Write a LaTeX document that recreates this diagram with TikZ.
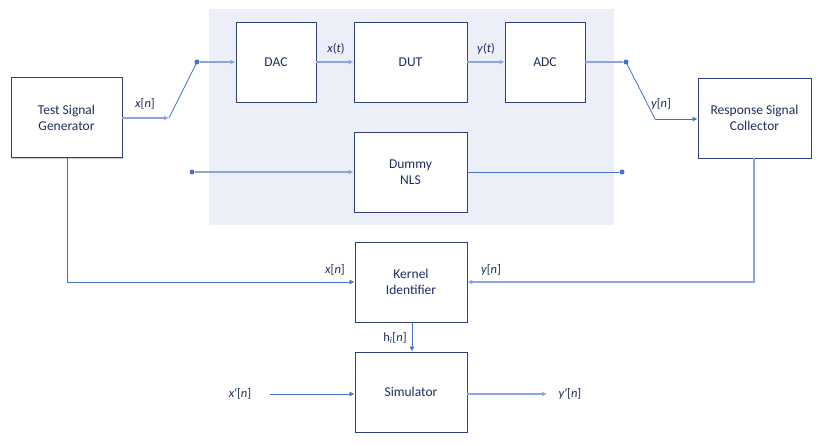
\documentclass[tikz,border=0pt]{standalone}
\usepackage{fontspec}
\setmainfont{Carlito}
\newfontfamily\primefont{Liberation Sans}
\usetikzlibrary{arrows.meta,shadows}
\definecolor{bgfill}{HTML}{ECEEF8}
\definecolor{boxline}{HTML}{2E4080}
\definecolor{txt}{HTML}{1F2D5C}
\definecolor{wire}{HTML}{4472C4}
\definecolor{wirelt}{HTML}{8EA5DB}
\tikzset{
  blk/.style={draw=boxline, line width=0.9pt, fill=white, inner sep=0pt, align=center,
    text=txt, font=\fontsize{13.5}{16}\selectfont,
    drop shadow={shadow xshift=1.2pt, shadow yshift=-1.2pt, opacity=0.35, fill=black!60}},
  wthin/.style={draw=wire, line width=0.8pt},
  wthick/.style={draw=wirelt, line width=1.6pt},
  arr/.style={-{Latex[length=5pt,width=5pt]}},
  dotc/.style={circle, fill=wire, inner sep=0pt, minimum size=5pt},
  lbl/.style={text=txt, font=\fontsize{12.5}{14}\selectfont, inner sep=1pt}
}
\begin{document}
\begin{tikzpicture}[x=1pt,y=-1pt]
\useasboundingbox (0,0) rectangle (825,445);
\fill[bgfill] (209,9) rectangle (614,225);
% blocks
\node[blk, minimum width=111pt, minimum height=80pt] (tsg) at (66.5,117.5) {Test Signal\\Generator};
\node[blk, minimum width=113pt, minimum height=80pt] (rsc) at (754.5,118) {Response Signal\\Collector};
\node[blk, minimum width=80pt, minimum height=80pt] (dac) at (276,62) {DAC};
\node[blk, minimum width=113pt, minimum height=80pt] (dut) at (410.5,62) {DUT};
\node[blk, minimum width=80pt, minimum height=80pt] (adc) at (545,62) {ADC};
\node[blk, minimum width=113pt, minimum height=80pt] (nls) at (410.5,172) {Dummy\\NLS};
\node[blk, minimum width=112pt, minimum height=80pt] (ki) at (411,282) {Kernel\\Identifier};
\node[blk, minimum width=112pt, minimum height=80pt] (sim) at (411,392) {Simulator};
% coordinates
\coordinate (sw1) at (169,118);
\node[dotc] (d1) at (197,62) {};
\node[dotc] (d2) at (192,172) {};
\node[dotc] (d3) at (622,172) {};
\node[dotc] (d4) at (626,62) {};
\coordinate (sw2) at (655,119);
\coordinate (c1) at (67,282);
\coordinate (c2) at (754,282);
\coordinate (xin) at (270,394);
\coordinate (yout) at (547,394);
% wires
\draw[wthick, arr] (tsg.east |- sw1) -- (sw1);
\draw[wthin] (sw1) -- (d1.center);
\draw[wthick, arr] (d1) -- (dac.west);
\draw[wthick, arr] (dac.east) -- (dut.west);
\draw[wthick, arr] (dut.east) -- (adc.west);
\draw[wthick] (adc.east) -- (d4);
\draw[wthin] (d4.center) -- (sw2);
\draw[wthin, arr] (sw2) -- (rsc.west |- sw2);
\draw[wthick, arr] (d2) -- (nls.west);
\draw[wthin] (nls.east) -- (d3);
\draw[wthin, arr] (tsg.south -| c1) -- (c1) -- (ki.west);
\draw[wthick, arr] (rsc.south -| c2) -- (c2) -- (ki.east);
\draw[wthin, arr] (ki.south -| 412,0) -- (sim.north -| 412,0);
\draw[wthin, arr] (xin) -- (sim.west |- xin);
\draw[wthick, arr] (sim.east |- yout) -- (yout);
% labels
\node[lbl] (l1) at (145,104) {\textit{x}[\textit{n}]};
\node[lbl] (l2) at (661,104) {\textit{y}[\textit{n}]};
\node[lbl] (l3) at (335,270) {\textit{x}[\textit{n}]};
\node[lbl] (l4) at (491,270) {\textit{y}[\textit{n}]};
\node[lbl] (l5) at (336,49) {\textit{x}(\textit{t})};
\node[lbl] (l6) at (486,49) {\textit{y}(\textit{t})};
\node[lbl] (l7) at (395,338) {h\textsubscript{\textit{i}}[\textit{n}]};
\node[lbl] (l8) at (240,394) {\textit{x}{\primefont\kern0.3pt′}[\textit{n}]};
\node[lbl] (l9) at (570,394) {\textit{y}{\primefont\kern0.3pt′}[\textit{n}]};
\end{tikzpicture}
\end{document}
